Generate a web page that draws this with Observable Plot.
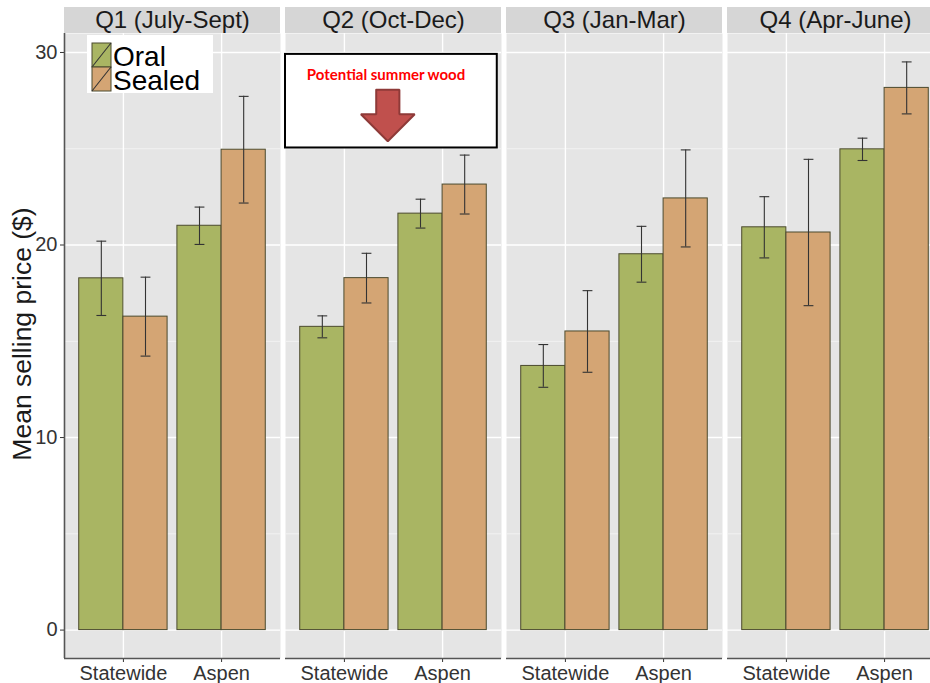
<!DOCTYPE html>
<html>
<head>
<meta charset="utf-8">
<script src="https://cdn.jsdelivr.net/npm/d3@7"></script>
<script src="https://cdn.jsdelivr.net/npm/@observablehq/plot@0.6"></script>
<style>
  body { margin: 0; background: #fff; }
  #chart { position: relative; width: 930px; height: 683px; overflow: hidden; }
</style>
</head>
<body>
<div id="chart"></div>
<script>
// Mean selling price by quarter, site and method (± error)
const quarters = ["Q1 (July-Sept)", "Q2 (Oct-Dec)", "Q3 (Jan-Mar)", "Q4 (Apr-June)"];
const sites = ["Statewide", "Aspen"];
const methods = ["Oral", "Sealed"];
// [Statewide, Aspen] for each quarter
const oralMean   = [[18.27, 21.00], [15.75, 21.63], [13.72, 19.52], [20.92, 24.97]];
const oralErr    = [[1.93, 0.97], [0.57, 0.75], [1.11, 1.45], [1.59, 0.58]];
const sealedMean = [[16.28, 24.95], [18.28, 23.14], [15.51, 22.42], [20.65, 28.16]];
const sealedErr  = [[2.05, 2.77], [1.29, 1.53], [2.12, 2.52], [3.80, 1.35]];
const yTicks = [0, 10, 20, 30];
const yMinorTicks = [5, 15, 25];
const yLabel = "Mean selling price ($)";
const noteQuarter = "Q2 (Oct-Dec)";
const noteText = "Potential summer wood";

const colors = {Oral: "#a9b563", Sealed: "#d4a574"};
const barStroke = "#4b4a2e";

// long-format rows; each site sits at index 1, 2 and the two methods dodge around it
const rows = [];
quarters.forEach((q, qi) => sites.forEach((s, si) => methods.forEach((m, mi) => {
  const mean = (m === "Oral" ? oralMean : sealedMean)[qi][si];
  const err = (m === "Oral" ? oralErr : sealedErr)[qi][si];
  rows.push({quarter: q, site: s, method: m, mean, err, pos: si + 1 + (mi - 0.5) * 0.45});
})));

const W = 945, H = 683, mT = 33, mB = 25, mL = 62;
const dataTop = d3.max(rows, d => d.mean + d.err);
const yDomain = [-0.05 * dataTop, 1.05 * dataTop];
const xDomain = [0.4, 2.6];
const pxPerUnit = (H - mT - mB) / (yDomain[1] - yDomain[0]);
const stripTop = yDomain[1] + 26 / pxPerUnit;
const half = 0.225, cap = 0.05;

// annotation box and arrow (data units of the Q2 panel)
const note = {quarter: noteQuarter, x1: 0.4, x2: 2.557, y1: 25.04, y2: 29.9, tx: 1.424, ty: 28.82};
const ax = 1.442, shaft = 0.118, head = 0.274;
const arrow = [
  [ax - shaft, 28.07], [ax + shaft, 28.07], [ax + shaft, 26.79], [ax + head, 26.79],
  [ax, 25.39], [ax - head, 26.79], [ax - shaft, 26.79], [ax - shaft, 28.07]
].map(([x, y]) => ({quarter: noteQuarter, x, y}));

const svg = Plot.plot({
  width: W, height: H,
  marginTop: mT, marginBottom: mB, marginLeft: mL, marginRight: 0,
  style: "font-family: 'Liberation Sans', Arial, sans-serif; font-size: 20px; color: #333; background: transparent; max-width: none; overflow: visible;",
  fx: {domain: quarters, paddingInner: 0.0225, paddingOuter: 0, axis: null, label: null},
  x: {domain: xDomain, ticks: [1, 2], tickFormat: d => sites[d - 1], tickSize: 4, tickPadding: 3, label: null},
  y: {domain: yDomain, ticks: yTicks, tickSize: 4, tickPadding: 3, label: null},
  color: {domain: methods, range: methods.map(m => colors[m])},
  marks: [
    Plot.frame({fill: "#e5e5e5", stroke: "none"}),
    // facet strips
    Plot.rect(quarters, {fx: d => d, x1: () => xDomain[0], x2: () => xDomain[1], y1: () => yDomain[1], y2: () => stripTop, fill: "#d6d6d6"}),
    Plot.text(quarters, {fx: d => d, x: () => (xDomain[0] + xDomain[1]) / 2, y: () => (yDomain[1] + stripTop) / 2, text: d => d, fontSize: 24, fill: "#1a1a1a"}),
    // grid
    Plot.ruleY(yMinorTicks, {stroke: "#f2f2f2", strokeWidth: 1}),
    Plot.ruleY(yTicks, {stroke: "#ffffff", strokeWidth: 1.4}),
    Plot.ruleX([1, 2], {stroke: "#ffffff", strokeWidth: 1.4}),
    // bars
    Plot.rect(rows, {fx: "quarter", x1: d => d.pos - half, x2: d => d.pos + half, y1: () => 0, y2: "mean", fill: "method", stroke: barStroke, strokeWidth: 1}),
    // error bars
    Plot.ruleX(rows, {fx: "quarter", x: "pos", y1: d => d.mean - d.err, y2: d => d.mean + d.err, stroke: "#333", strokeWidth: 1.1}),
    Plot.link(rows, {fx: "quarter", x1: d => d.pos - cap, x2: d => d.pos + cap, y1: d => d.mean + d.err, y2: d => d.mean + d.err, stroke: "#333", strokeWidth: 1.1}),
    Plot.link(rows, {fx: "quarter", x1: d => d.pos - cap, x2: d => d.pos + cap, y1: d => d.mean - d.err, y2: d => d.mean - d.err, stroke: "#333", strokeWidth: 1.1}),
    // axis lines
    Plot.ruleY([yDomain[0]], {stroke: "#555", strokeWidth: 1.6}),
    Plot.ruleX([quarters[0]], {fx: d => d, x: () => xDomain[0], y1: () => yDomain[0], y2: () => yDomain[1], stroke: "#555", strokeWidth: 1.6}),
    // annotation
    Plot.rect([note], {fx: "quarter", x1: "x1", x2: "x2", y1: "y1", y2: "y2", fill: "white", stroke: "black", strokeWidth: 2}),
    Plot.text([note], {fx: "quarter", x: "tx", y: "ty", text: () => noteText, fill: "#ff0000", fontWeight: "bold", fontSize: 15, fontFamily: "Lato, 'Open Sans', sans-serif"}),
    Plot.line(arrow, {fx: "quarter", x: "x", y: "y", fill: "#c0504d", stroke: "#8e3a38", strokeWidth: 2, strokeLinejoin: "miter"})
  ]
});

const s = d3.select(svg);

// y-axis title
s.append("text")
  .attr("transform", "translate(31,334) rotate(-90)")
  .attr("text-anchor", "middle")
  .attr("font-size", 26.5)
  .attr("fill", "#1a1a1a")
  .text(yLabel);

// legend
const lg = s.append("g").attr("text-anchor", "start");
lg.append("rect").attr("x", 87).attr("y", 35).attr("width", 126).attr("height", 58).attr("fill", "white");
methods.forEach((m, i) => {
  const y0 = 43 + i * 24;
  lg.append("rect").attr("x", 92).attr("y", y0).attr("width", 19).attr("height", 24)
    .attr("fill", colors[m]).attr("stroke", barStroke).attr("stroke-width", 1);
  lg.append("line").attr("x1", 92).attr("y1", y0 + 24).attr("x2", 111).attr("y2", y0)
    .attr("stroke", "#333").attr("stroke-width", 1.1);
  lg.append("text").attr("x", 113).attr("y", y0 + 23).attr("font-size", 28).attr("fill", "#000").text(m);
});

document.getElementById("chart").appendChild(svg);
</script>
</body>
</html>
